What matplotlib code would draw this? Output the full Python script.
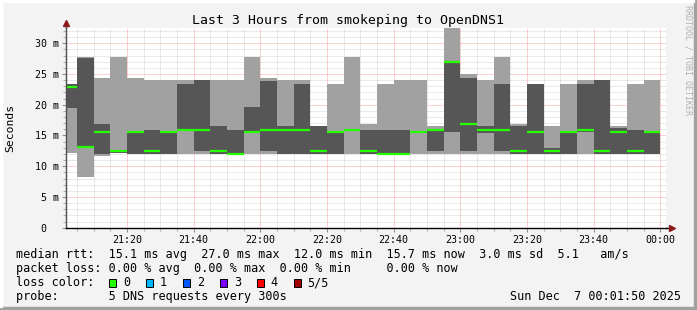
import matplotlib
matplotlib.use('Agg')
import matplotlib.pyplot as plt
from matplotlib.patches import Rectangle
from matplotlib.ticker import MultipleLocator

# ---------------- data ----------------
bar_times = ["21:00", "21:05", "21:10", "21:15", "21:20", "21:25", "21:30", "21:35",
             "21:40", "21:45", "21:50", "21:55", "22:00", "22:05", "22:10", "22:15",
             "22:20", "22:25", "22:30", "22:35", "22:40", "22:45", "22:50", "22:55",
             "23:00", "23:05", "23:10", "23:15", "23:20", "23:25", "23:30", "23:35",
             "23:40", "23:45", "23:50", "23:55"]
# five sorted pings per interval (ms): min, 2nd, median, 4th, max
ping_min = [12.1, 8.3, 11.7, 12.1, 12.0, 12.0, 12.0, 12.0, 12.0, 12.0, 11.9, 12.0,
            12.0, 12.0, 12.0, 12.0, 12.0, 12.0, 12.0, 11.9, 11.9, 12.0, 12.0, 12.0,
            12.0, 12.0, 12.0, 12.0, 12.0, 12.0, 12.0, 12.0, 12.0, 12.0, 12.0, 12.0]
ping_2nd = [19.4, 12.9, 12.0, 12.2, 12.05, 12.05, 12.05, 15.8, 12.4, 12.05, 11.95, 15.5,
            12.4, 12.05, 12.05, 12.05, 12.05, 15.8, 12.05, 11.95, 11.95, 15.5, 12.4, 15.6,
            12.4, 15.4, 12.4, 12.05, 12.05, 12.05, 12.05, 15.5, 12.05, 12.05, 12.05, 12.05]
ping_med = [22.9, 13.1, 15.6, 12.4, 15.6, 12.4, 15.6, 15.9, 15.9, 12.4, 12.0, 15.6,
            15.9, 15.9, 15.9, 12.4, 15.6, 15.9, 12.4, 12.0, 12.0, 15.6, 15.9, 27.0,
            16.9, 15.9, 15.9, 12.4, 15.6, 12.4, 15.6, 15.9, 12.4, 15.6, 12.4, 15.6]
ping_4th = [23.3, 27.6, 16.9, 12.5, 15.8, 15.9, 15.8, 23.4, 24.0, 16.5, 15.9, 19.7,
            23.8, 16.5, 23.4, 16.5, 15.7, 16.0, 15.9, 15.9, 15.9, 15.7, 16.1, 27.1,
            24.4, 16.5, 23.4, 16.5, 23.4, 13.0, 15.7, 23.4, 24.0, 16.2, 15.9, 15.7]
ping_max = [23.4, 27.7, 24.4, 27.7, 24.4, 24.0, 24.0, 24.0, 24.05, 24.0, 24.0, 27.7,
            24.4, 24.0, 24.0, 16.6, 23.4, 27.7, 16.9, 23.4, 24.0, 24.0, 16.5, 32.5,
            25.0, 24.0, 27.7, 16.9, 23.45, 16.5, 23.4, 24.0, 24.05, 16.5, 23.4, 24.0]

x_tick_labels = ["21:20", "21:40", "22:00", "22:20", "22:40", "23:00", "23:20", "23:40", "00:00"]
y_ticks = [0, 5, 10, 15, 20, 25, 30]
y_tick_labels = ["0  ", "5 m", "10 m", "15 m", "20 m", "25 m", "30 m"]
view_start, view_end = "21:01:50", "00:01:50"

loss_labels = ["0", "1", "2", "3", "4", "5/5"]
loss_colors = ["#26ff00", "#00b8ff", "#0059ff", "#7e00ff", "#ff0000", "#a10000"]

legend_lines = [
    "median rtt:  15.1 ms avg  27.0 ms max  12.0 ms min  15.7 ms now  3.0 ms sd  5.1   am/s",
    "packet loss: 0.00 % avg  0.00 % max  0.00 % min     0.00 % now",
    "loss color:",
    "probe:       5 DNS requests every 300s",
]
date_text = "Sun Dec  7 00:01:50 2025"
title = "Last 3 Hours from smokeping to OpenDNS1"


def to_min(s):
    parts = [int(p) for p in s.split(":")]
    h, m = parts[0], parts[1]
    sec = parts[2] if len(parts) > 2 else 0
    if h < 12:
        h += 24
    return (h - 21) * 60 + m + sec / 60.0


starts = [to_min(t) for t in bar_times]
bar_w = 5
ends = [s + bar_w for s in starts]

# ---------------- figure ----------------
W, H = 697, 310
MONO = "DejaVu Sans Mono"
fig = plt.figure(figsize=(W / 100, H / 100), dpi=100)
fig.patch.set_facecolor("#f3f3f3")


def fx(x):
    return x / W


def fy(y):
    return 1 - y / H


# frame (3D-ish border)
fig.patches.append(Rectangle((0, 0), 1, fy(307), transform=fig.transFigure, color="#a0a0a0", zorder=0))
fig.patches.append(Rectangle((fx(694), 0), 1, 1, transform=fig.transFigure, color="#a0a0a0", zorder=0))
fig.patches.append(Rectangle((0, fy(2)), fx(694), 1, transform=fig.transFigure, color="#ffffff", zorder=0))
fig.patches.append(Rectangle((0, fy(307)), fx(2), 1, transform=fig.transFigure, color="#ffffff", zorder=0))

left, right, top, bottom = 66.4, 666.4, 27.9, 227.7
ax = fig.add_axes([fx(left), fy(bottom), (right - left) / W, (bottom - top) / H])
ax.set_facecolor("white")

# smoke
light_h = [b - a for a, b in zip(ping_min, ping_max)]
dark_h = [b - a for a, b in zip(ping_2nd, ping_4th)]
ax.bar(starts, light_h, bottom=ping_min, width=bar_w, align="edge",
       color="#a1a1a1", linewidth=0, zorder=1)
ax.bar(starts, dark_h, bottom=ping_2nd, width=bar_w, align="edge",
       color="#565656", linewidth=0, zorder=1.1)
ax.hlines(ping_med, starts, ends, color="#26ff00", linewidth=1.6, zorder=3)

ax.set_xlim(to_min(view_start), to_min(view_end))
ax.set_ylim(0, 32.5)

ax.set_xticks([to_min(t) for t in x_tick_labels])
ax.set_xticklabels(x_tick_labels, fontfamily=MONO, fontsize=7.2)
ax.xaxis.set_minor_locator(MultipleLocator(5))
ax.set_yticks(y_ticks)
ax.set_yticklabels(y_tick_labels, fontfamily=MONO, fontsize=7.2)
ax.yaxis.set_minor_locator(MultipleLocator(1))

ax.tick_params(which="major", length=3, width=0.8, color="#909090", pad=2.5)
ax.tick_params(which="minor", length=2, width=0.8, color="#b0b0b0")

ax.set_axisbelow(True)
ax.grid(which="minor", color="#000000", alpha=0.17, linestyle=(0, (1, 1)), linewidth=0.72)
ax.grid(which="major", color="#ff0000", alpha=0.35, linestyle=(0, (1, 1)), linewidth=0.72)

for sp in ["top", "right"]:
    ax.spines[sp].set_visible(False)
ax.spines["left"].set_color("#505050")
ax.spines["bottom"].set_color("#000000")
ax.spines["left"].set_linewidth(1.0)
ax.spines["bottom"].set_linewidth(1.0)
ax.spines["left"].set_zorder(5)
ax.spines["bottom"].set_zorder(5)

# axis extensions and arrows
x0 = to_min(view_start)
x1 = to_min(view_end)
ax.plot([x0, x0], [32.5, 33.2], color="#505050", lw=1.0, clip_on=False, zorder=5)
ax.plot([x1, x1 + 1.6], [0, 0], color="#000000", lw=1.0, clip_on=False, zorder=5)
ax.plot([x0], [33.3], marker="^", color="#8b1a1a", markersize=5, clip_on=False, zorder=6)
ax.plot([x1 + 1.8], [0], marker=">", color="#8b1a1a", markersize=5, clip_on=False, zorder=6)

# ---------------- texts ----------------
fig.text(fx(347.7), fy(24), title, fontfamily=MONO, fontsize=9.5, ha="center", va="baseline")
fig.text(fx(10.5), fy(127.7), "Seconds", fontfamily=MONO, fontsize=8.2, rotation=90,
         ha="center", va="center")
fig.text(fx(688), fy(5), "RRDTOOL / TOBI OETIKER", fontfamily=MONO, fontsize=6,
         rotation=270, ha="center", va="top", color="#b0b0b0")

baselines = [258, 272, 286, 300]
for line, yb in zip(legend_lines, baselines):
    fig.text(fx(16), fy(yb), line, fontfamily=MONO, fontsize=8.45, ha="left", va="baseline")
fig.text(fx(681), fy(300), date_text, fontfamily=MONO, fontsize=8.45, ha="right", va="baseline")

for i, (lab, col) in enumerate(zip(loss_labels, loss_colors)):
    sx = 109 + 36.9 * i
    fig.patches.append(Rectangle((fx(sx), fy(286.7)), 7 / W, 8 / H, transform=fig.transFigure,
                                 facecolor=col, edgecolor="black", linewidth=0.7, zorder=3))
    fig.text(fx(sx + 14), fy(286), lab, fontfamily=MONO, fontsize=8.45, ha="left", va="baseline")

fig.savefig("out.png", dpi=100, facecolor=fig.get_facecolor())
